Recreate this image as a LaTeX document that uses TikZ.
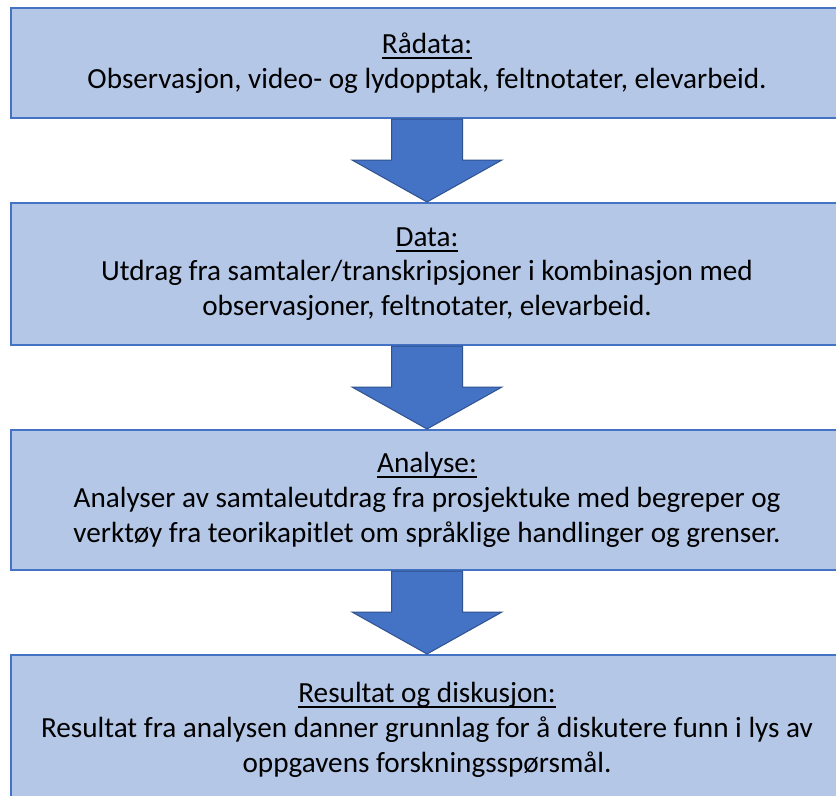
\documentclass[tikz,border=0pt]{standalone}
\usepackage{fontspec}
\setmainfont{Carlito}
\usetikzlibrary{calc}
\definecolor{boxfill}{HTML}{B4C7E7}
\definecolor{boxline}{HTML}{4472C4}
\definecolor{arrfill}{HTML}{4472C4}
\definecolor{arrline}{HTML}{2F528F}
\tikzset{
  stagebox/.style={draw=boxline, line width=1.5pt, fill=boxfill, rectangle,
    minimum width=624pt, align=center, inner sep=0pt,
    font=\fontsize{21.9pt}{26pt}\selectfont, text=black},
  flowarrow/.style={draw=arrline, line width=0.75pt, fill=arrfill, line join=miter}
}
\newsavebox\ttlbox
\newcommand{\ttl}[1]{\sbox\ttlbox{#1}\rlap{\usebox\ttlbox}\rule[-4.1pt]{\wd\ttlbox}{1.6pt}}
\begin{document}
\begin{tikzpicture}[x=0.75pt,y=-0.75pt]
\clip (0,0) rectangle (836,796);
\fill[white] (0,0) rectangle (836,796);
\node[stagebox, minimum height=82.5pt] (b1) at (427,63)
  {\ttl{Rådata:}\\Observasjon, video- og lydopptak, feltnotater, elevarbeid.};
\node[stagebox, minimum height=106.5pt] (b2) at (427,274)
  {\ttl{Data:}\\Utdrag fra samtaler/transkripsjoner i kombinasjon med\\observasjoner, feltnotater, elevarbeid.};
\node[stagebox, minimum height=105pt] (b3) at (427,500)
  {\ttl{Analyse:}\\Analyser av samtaleutdrag fra prosjektuke med begreper og\\verktøy fra teorikapitlet om språklige handlinger og grenser.};
\node[stagebox, minimum height=112.5pt] (b4) at (427,730)
  {\ttl{Resultat og diskusjon:}\\Resultat fra analysen danner grunnlag for å diskutere funn i lys av\\oppgavens forskningsspørsmål.};
\foreach \a/\b in {b1/b2,b2/b3,b3/b4}{
  \draw[flowarrow]
    ($(\a.south)+(-35.5,0)$) -- ($(\a.south)+(35.5,0)$)
    -- ($(\a.south)+(35.5,41)$) -- ($(\a.south)+(75,41)$)
    -- (\b.north) -- ($(\a.south)+(-75,41)$)
    -- ($(\a.south)+(-35.5,41)$) -- cycle;
}
\end{tikzpicture}
\end{document}
